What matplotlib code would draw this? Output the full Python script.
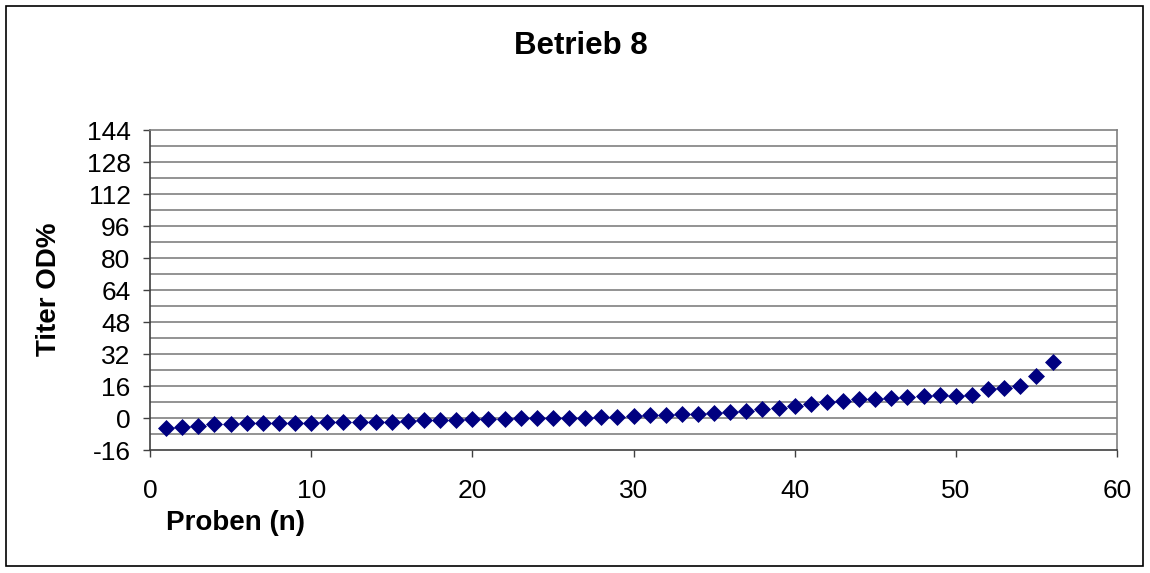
import numpy as np
import matplotlib.pyplot as plt
from matplotlib.patches import Rectangle

plt.rcParams['font.family'] = ['Liberation Sans', 'DejaVu Sans']
plt.rcParams['axes.unicode_minus'] = False

# Probennummer und Titer (OD%)
proben = list(range(1, 57))
titer = [-5.2, -4.3, -4.2, -3.2, -2.8, -2.7, -2.5, -2.4, -2.3, -2.3,
         -2.2, -2.1, -2.0, -1.9, -1.8, -1.3, -1.2, -1.0, -0.8, -0.6,
         -0.4, -0.3, -0.2, -0.1, 0.0, 0.1, 0.2, 0.4, 0.6, 1.0,
         1.4, 1.6, 1.9, 2.1, 2.4, 3.0, 3.3, 4.3, 5.0, 6.2,
         7.2, 7.8, 8.3, 9.7, 9.7, 10.0, 10.3, 11.2, 11.3, 11.2,
         11.3, 14.7, 15.0, 16.2, 20.8, 28.0]
y_ticks = [-16, 0, 16, 32, 48, 64, 80, 96, 112, 128, 144]
x_ticks = [0, 10, 20, 30, 40, 50, 60]

W, H = 1150, 573
fig = plt.figure(figsize=(W / 100, H / 100), dpi=100)

# äußerer Rahmen
fig.patches.append(Rectangle((6 / W, 7 / H), 1137 / W, 560 / H, transform=fig.transFigure,
                             fill=False, edgecolor='black', linewidth=1.2))

ax = fig.add_axes([150 / W, 1 - 450 / H, 967 / W, 320 / H])
ax.set_xlim(0, 60)
ax.set_ylim(-16, 144)

# Gitterlinien alle 8 Einheiten
for g in np.arange(-8, 144, 8):
    ax.axhline(g, color='#808080', linewidth=1.2, zorder=1)

ax.scatter(proben, titer, marker='D', s=75, color='#000080', zorder=3, linewidths=0)

ax.set_xticks(x_ticks)
ax.set_yticks(y_ticks)
ax.tick_params(axis='both', labelsize=19, direction='out', length=5, width=1, color='#404040')
ax.tick_params(axis='x', pad=16)
ax.tick_params(axis='y', pad=9)
for side in ['top', 'right']:
    ax.spines[side].set_color('#808080')
    ax.spines[side].set_linewidth(1.2)
for side in ['left', 'bottom']:
    ax.spines[side].set_color('#404040')
    ax.spines[side].set_linewidth(1.2)

fig.text(581 / W, 1 - 46 / H, 'Betrieb 8', ha='center', va='center', fontsize=22.5, fontweight='bold')
fig.text(166 / W, 1 - 523 / H, 'Proben (n)', ha='left', va='center', fontsize=20, fontweight='bold')
fig.text(49 / W, 1 - 289 / H, 'Titer OD%', ha='center', va='center', fontsize=20,
         fontweight='bold', rotation=90)

plt.savefig('out.png', dpi=100)
